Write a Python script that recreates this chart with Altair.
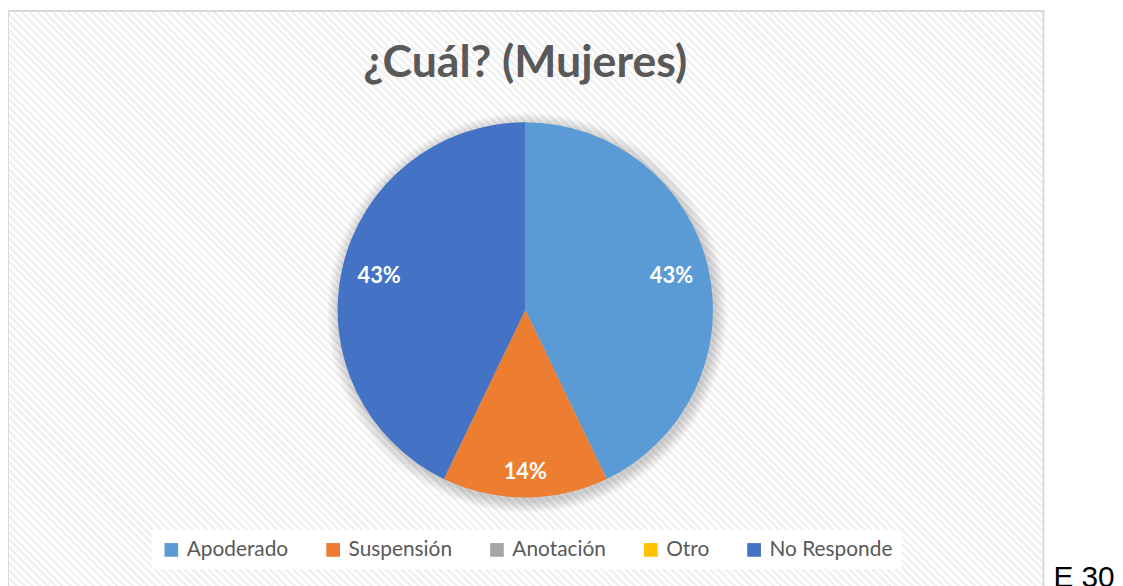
import altair as alt
import pandas as pd

categories = ["Apoderado", "Suspensión", "Anotación", "Otro", "No Responde"]
counts = [3, 1, 0, 0, 3]
colors = ["#5b9bd5", "#ed7d31", "#a5a5a5", "#ffc000", "#4472c4"]
title_text = "¿Cuál? (Mujeres)"
side_text = "E 30"

df = pd.DataFrame({"cat": categories, "n": counts, "idx": list(range(len(categories)))})

CX, CY, R = 521, 302, 189

# subtle diagonal hatch for the chart area background
FW = 1043
period = 5.5 / (FW * 1.41421)
stops = []
k = 0
while k * period < 1:
    a = k * period
    b = min(a + period / 2, 1)
    c = min(a + period, 1)
    stops += [
        {"offset": a, "color": "#ffffff"},
        {"offset": b, "color": "#ffffff"},
        {"offset": b, "color": "#f1f1f1"},
        {"offset": c, "color": "#f1f1f1"},
    ]
    k += 1
hatch = {"gradient": "linear", "x1": 0, "y1": 1, "x2": 1, "y2": 0, "stops": stops}

frame_bg = alt.Chart(pd.DataFrame({"a": [0]})).mark_rect(
    fill=hatch, strokeWidth=0
).encode(x=alt.value(0), x2=alt.value(FW), y=alt.value(1), y2=alt.value(1 + FW))

frame = alt.Chart(pd.DataFrame({"a": [0]})).mark_rect(
    fillOpacity=0, stroke="#d9d9d9", strokeWidth=2
).encode(x=alt.value(0), x2=alt.value(FW), y=alt.value(1), y2=alt.value(640))

shadow_layers = []
for i in range(8):
    shadow_layers.append(
        alt.Chart(pd.DataFrame({"a": [0]})).mark_arc(
            fill="#000000", opacity=0.025, radius=R + 1 + i * 1.6
        ).encode(
            theta=alt.value(0), theta2=alt.value(6.2832),
            x=alt.value(CX + 2), y=alt.value(CY + 3)
        )
    )

pie = alt.Chart(df).mark_arc(radius=R, x=CX, y=CY).encode(
    theta=alt.Theta("n:Q", stack=True),
    order=alt.Order("idx:Q"),
    color=alt.Color(
        "cat:N",
        scale=alt.Scale(domain=categories, range=colors),
        sort=categories,
        legend=alt.Legend(
            title=None, orient="none", direction="horizontal", columns=5,
            legendX=145, legendY=524, fillColor="#ffffff", padding=9,
            symbolType="square", symbolSize=190, symbolStrokeWidth=0,
            labelFont="Lato", labelFontSize=21, labelColor="#595959",
            columnPadding=34, labelOffset=5,
        ),
    ),
)

labels = alt.Chart(df).transform_joinaggregate(total="sum(n)").transform_window(
    cum="sum(n)", sort=[alt.SortField("idx", order="ascending")]
).transform_calculate(
    share="datum.n / datum.total",
    mid="(datum.cum - datum.n / 2) / datum.total * 2 * PI",
    rad="datum.n / datum.total < 0.2 ? 163 : 151",
).transform_filter("datum.n > 0").mark_text(
    font="Lato", fontSize=22, fontWeight="bold", color="#ffffff", x=CX, y=CY
).encode(
    theta=alt.Theta("mid:Q", scale=None),
    radius=alt.Radius("rad:Q", scale=None),
    text=alt.Text("share:Q", format=".0%"),
)

title = alt.Chart(pd.DataFrame({"t": [title_text]})).mark_text(
    font="Lato", fontSize=45, fontWeight="bold", color="#595959", baseline="alphabetic"
).encode(text="t:N", x=alt.value(CX), y=alt.value(67))

side = alt.Chart(pd.DataFrame({"t": [side_text]})).mark_text(
    font="Liberation Sans", fontSize=30, color="#000000", align="left", baseline="alphabetic"
).encode(text="t:N", x=alt.value(1053), y=alt.value(581))

chart = alt.layer(frame_bg, frame, *shadow_layers, pie, labels, title, side).properties(
    width=1115, height=578, autosize=alt.AutoSizeParams(type="none"), padding=0
).configure_view(stroke=None)

chart.save("out.html", embed_options={"renderer": "svg", "actions": False})
